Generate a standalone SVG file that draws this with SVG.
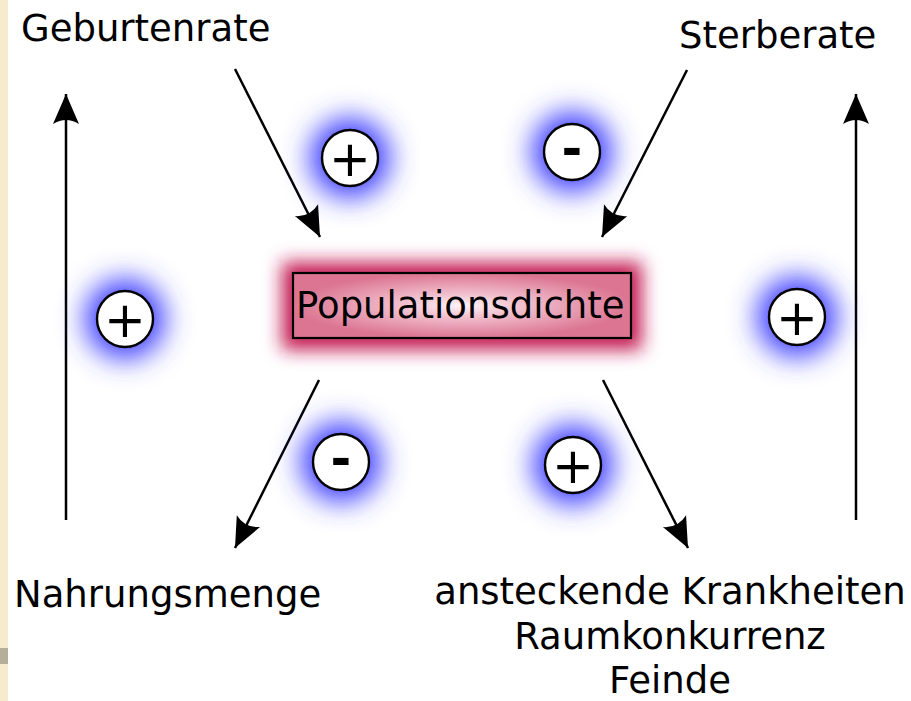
<svg xmlns="http://www.w3.org/2000/svg" width="911" height="701" viewBox="0 0 911 701">
<defs>
<style>
.lbl{font-family:"DejaVu Sans",sans-serif;font-size:37px;fill:#000}
.sign{font-family:"DejaVu Sans",sans-serif;font-size:50px;fill:#000;text-anchor:middle}
.minus{font-weight:bold}
.ring{fill:#fff;stroke:#000;stroke-width:2.4}
.glow{fill:#3c3cff;filter:url(#blurB)}
.con{stroke:#000;stroke-width:2.5;fill:none;marker-end:url(#ah)}
</style>
<filter id="blurB" x="-100%" y="-100%" width="300%" height="300%"><feGaussianBlur stdDeviation="14"/></filter>
<filter id="blurR" x="-30%" y="-100%" width="160%" height="300%"><feGaussianBlur stdDeviation="9"/></filter>
<radialGradient id="boxg" cx="0.5" cy="0.5" r="0.5">
<stop offset="0" stop-color="#fdf4f7"/>
<stop offset="0.3" stop-color="#f3c6d3"/>
<stop offset="1" stop-color="#dc7592"/>
</radialGradient>
<marker id="ah" viewBox="-32 -15 34 30" refX="0" refY="0" markerWidth="34" markerHeight="30" markerUnits="userSpaceOnUse" orient="auto">
<path d="M0,0 L-30,-13 Q-22,0 -30,13 Z" fill="#000"/>
</marker>
</defs>
<rect x="0" y="0" width="911" height="701" fill="#fff"/>
<rect x="0" y="0" width="8" height="701" fill="#f6eccd"/>
<rect x="0" y="648" width="8" height="16" fill="#b5ae98"/>

<g id="connectors">
<line class="con" x1="235" y1="69" x2="320" y2="237"/>
<line class="con" x1="687" y1="70" x2="602" y2="237"/>
<line class="con" x1="319" y1="380" x2="235" y2="548"/>
<line class="con" x1="603" y1="380" x2="688" y2="548"/>
<line class="con" x1="66" y1="520" x2="66" y2="94"/>
<line class="con" x1="856" y1="520" x2="856" y2="94"/>
</g>

<g id="populationsdichte">
<rect x="282" y="262" width="360" height="88" fill="#c41f55" filter="url(#blurR)"/>
<rect x="293" y="273" width="338" height="65" fill="url(#boxg)" stroke="#000" stroke-width="2.2"/>
<text class="lbl" x="296" y="318">Populationsdichte</text>
</g>

<g id="geburtenrate"><text class="lbl" x="21" y="41">Geburtenrate</text></g>
<g id="sterberate"><text class="lbl" x="679" y="48">Sterberate</text></g>
<g id="nahrungsmenge"><text class="lbl" x="14" y="607">Nahrungsmenge</text></g>
<g id="faktoren">
<text class="lbl" x="670" y="604" text-anchor="middle">ansteckende Krankheiten</text>
<text class="lbl" x="670" y="649" text-anchor="middle">Raumkonkurrenz</text>
<text class="lbl" x="670" y="693" text-anchor="middle">Feinde</text>
</g>

<g id="sign-tl"><circle class="glow" cx="350" cy="158" r="40"/><circle class="ring" cx="350" cy="158" r="28"/><text class="sign" x="350" y="176">+</text></g>
<g id="sign-tr"><circle class="glow" cx="572" cy="152" r="40"/><circle class="ring" cx="572" cy="152" r="28"/><text class="sign minus" x="572" y="166">-</text></g>
<g id="sign-l"><circle class="glow" cx="125" cy="319" r="40"/><circle class="ring" cx="125" cy="319" r="28"/><text class="sign" x="125" y="337">+</text></g>
<g id="sign-r"><circle class="glow" cx="797" cy="317" r="40"/><circle class="ring" cx="797" cy="317" r="28"/><text class="sign" x="797" y="335">+</text></g>
<g id="sign-bl"><circle class="glow" cx="341" cy="462" r="40"/><circle class="ring" cx="341" cy="462" r="28"/><text class="sign minus" x="341" y="476">-</text></g>
<g id="sign-br"><circle class="glow" cx="573" cy="465" r="40"/><circle class="ring" cx="573" cy="465" r="28"/><text class="sign" x="573" y="483">+</text></g>
</svg>
